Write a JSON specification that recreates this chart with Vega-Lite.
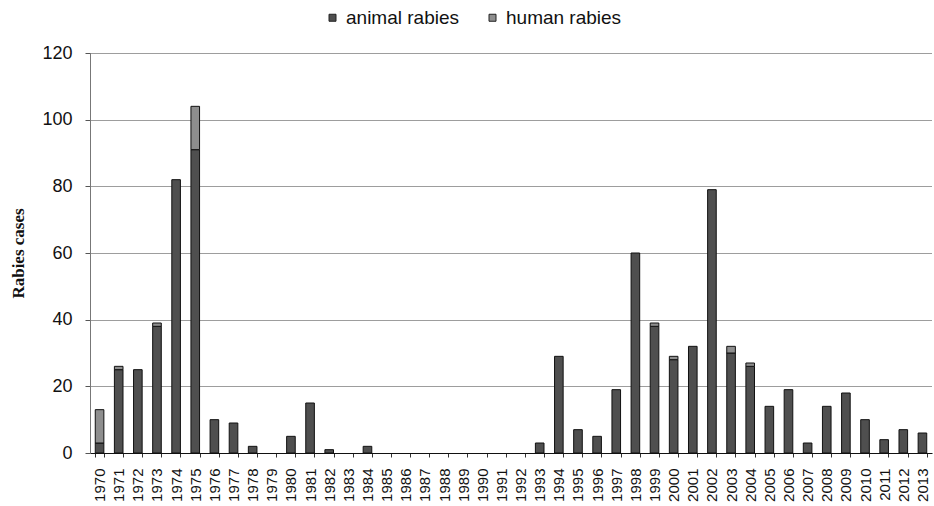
{
  "$schema": "https://vega.github.io/schema/vega-lite/v6.json",
  "width": 842,
  "height": 400,
  "autosize": "none",
  "padding": {"left": 90, "top": 53, "right": 2, "bottom": 53},
  "background": "white",
  "datasets": {
    "rabies": [
      {"year": "1970", "type": "animal rabies", "cases": 3}, {"year": "1970", "type": "human rabies", "cases": 10},
      {"year": "1971", "type": "animal rabies", "cases": 25}, {"year": "1971", "type": "human rabies", "cases": 1},
      {"year": "1972", "type": "animal rabies", "cases": 25},
      {"year": "1973", "type": "animal rabies", "cases": 38}, {"year": "1973", "type": "human rabies", "cases": 1},
      {"year": "1974", "type": "animal rabies", "cases": 82},
      {"year": "1975", "type": "animal rabies", "cases": 91}, {"year": "1975", "type": "human rabies", "cases": 13},
      {"year": "1976", "type": "animal rabies", "cases": 10},
      {"year": "1977", "type": "animal rabies", "cases": 9},
      {"year": "1978", "type": "animal rabies", "cases": 2},
      {"year": "1980", "type": "animal rabies", "cases": 5},
      {"year": "1981", "type": "animal rabies", "cases": 15},
      {"year": "1982", "type": "animal rabies", "cases": 1},
      {"year": "1984", "type": "animal rabies", "cases": 2},
      {"year": "1993", "type": "animal rabies", "cases": 3},
      {"year": "1994", "type": "animal rabies", "cases": 29},
      {"year": "1995", "type": "animal rabies", "cases": 7},
      {"year": "1996", "type": "animal rabies", "cases": 5},
      {"year": "1997", "type": "animal rabies", "cases": 19},
      {"year": "1998", "type": "animal rabies", "cases": 60},
      {"year": "1999", "type": "animal rabies", "cases": 38}, {"year": "1999", "type": "human rabies", "cases": 1},
      {"year": "2000", "type": "animal rabies", "cases": 28}, {"year": "2000", "type": "human rabies", "cases": 1},
      {"year": "2001", "type": "animal rabies", "cases": 32},
      {"year": "2002", "type": "animal rabies", "cases": 79},
      {"year": "2003", "type": "animal rabies", "cases": 30}, {"year": "2003", "type": "human rabies", "cases": 2},
      {"year": "2004", "type": "animal rabies", "cases": 26}, {"year": "2004", "type": "human rabies", "cases": 1},
      {"year": "2005", "type": "animal rabies", "cases": 14},
      {"year": "2006", "type": "animal rabies", "cases": 19},
      {"year": "2007", "type": "animal rabies", "cases": 3},
      {"year": "2008", "type": "animal rabies", "cases": 14},
      {"year": "2009", "type": "animal rabies", "cases": 18},
      {"year": "2010", "type": "animal rabies", "cases": 10},
      {"year": "2011", "type": "animal rabies", "cases": 4},
      {"year": "2012", "type": "animal rabies", "cases": 7},
      {"year": "2013", "type": "animal rabies", "cases": 6}
    ]
  },
  "data": {"name": "rabies"},
  "mark": {"type": "bar", "stroke": "#111111", "strokeWidth": 1},
  "encoding": {
    "x": {
      "field": "year",
      "type": "ordinal",
      "scale": {
        "domain": ["1970","1971","1972","1973","1974","1975","1976","1977","1978","1979","1980","1981","1982","1983","1984","1985","1986","1987","1988","1989","1990","1991","1992","1993","1994","1995","1996","1997","1998","1999","2000","2001","2002","2003","2004","2005","2006","2007","2008","2009","2010","2011","2012","2013"],
        "paddingInner": 0.55,
        "paddingOuter": 0.275
      },
      "axis": {
        "title": null,
        "labelAngle": -90,
        "labelFont": "Liberation Sans",
        "labelFontSize": 15,
        "labelColor": "#111111",
        "labelPadding": 11,
        "tickBand": "extent",
        "tickSize": 4,
        "tickColor": "#333333",
        "domainColor": "#111111",
        "grid": false
      }
    },
    "y": {
      "field": "cases",
      "type": "quantitative",
      "stack": "zero",
      "scale": {"domain": [0, 120], "nice": false},
      "axis": {
        "title": "Rabies cases",
        "titleFont": "Liberation Serif",
        "titleFontSize": 17,
        "titleFontWeight": "bold",
        "titleColor": "#111111",
        "titlePadding": 14,
        "values": [0, 20, 40, 60, 80, 100, 120],
        "labelFont": "Liberation Sans",
        "labelFontSize": 18,
        "labelColor": "#111111",
        "labelPadding": 13,
        "tickSize": 5,
        "tickColor": "#555555",
        "domain": true,
        "domainColor": "#777777",
        "grid": true,
        "gridColor": "#3a3a3a",
        "gridDash": [1, 1],
        "gridWidth": 1
      }
    },
    "color": {
      "field": "type",
      "type": "nominal",
      "scale": {"domain": ["animal rabies", "human rabies"], "range": ["#4f4f4f", "#8e8e8e"]},
      "legend": {
        "title": null,
        "orient": "none",
        "direction": "horizontal",
        "legendX": 233,
        "legendY": -45,
        "symbolType": "square",
        "symbolSize": 49,
        "symbolStrokeColor": "#222222",
        "symbolStrokeWidth": 1,
        "labelFont": "Liberation Sans",
        "labelFontSize": 19,
        "labelColor": "#111111",
        "labelOffset": 4,
        "columnPadding": 24
      }
    },
    "order": {"field": "type", "sort": "ascending"}
  },
  "config": {"view": {"stroke": null}}
}
